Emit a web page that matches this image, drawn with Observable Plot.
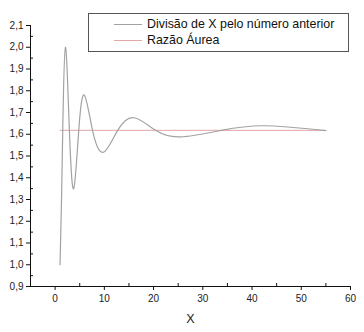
<!DOCTYPE html>
<html>
<head>
<meta charset="utf-8">
<script src="https://cdn.jsdelivr.net/npm/d3@7"></script>
<script src="https://cdn.jsdelivr.net/npm/@observablehq/plot@0.6"></script>
<style>
  body { margin: 0; background: #fff; }
  #wrap { position: relative; width: 364px; height: 332px; font-family: "Liberation Sans", Arial, sans-serif; }
  #legend { position: absolute; left: 88px; top: 13px; width: 259px; height: 37px; border: 1px solid #555; background: #fff; box-sizing: content-box; }
  .row { position: absolute; left: 0; height: 16px; display: flex; align-items: center; font-size: 12.4px; color: #111; white-space: nowrap; }
  .sw { width: 28px; height: 0; margin-left: 25px; margin-right: 5px; }
</style>
</head>
<body>
<div id="wrap">
  <div id="chart"></div>
  <div id="legend">
    <div class="row" style="top:2px"><span class="sw" id="sw1"></span><span id="lab1"></span></div>
    <div class="row" style="top:18px"><span class="sw" id="sw2"></span><span id="lab2"></span></div>
  </div>
</div>
<script>
// Series 1: ratio of X to the previous number (curve)
const ratioX = [1, 1.3, 1.55, 2.09, 2.9, 3.78, 4.8, 5.94, 7.6, 9.8, 12.7, 16.05, 20.4, 25.5, 33.8, 42.4, 55];
const ratioY = [1.0, 1.3, 1.618, 2.0, 1.618, 1.35, 1.618, 1.78, 1.618, 1.517, 1.618, 1.676, 1.618, 1.588, 1.618, 1.639, 1.617];
// Series 2: golden ratio
const goldenX = [1, 55];
const goldenY = [1.618, 1.618];
// Legend labels
const seriesNames = ["Divisão de X pelo número anterior", "Razão Áurea"];
const seriesColors = ["#a2a2a2", "#e2a6a6"];
// Axis ticks
const yTicks = [0.9, 1.0, 1.1, 1.2, 1.3, 1.4, 1.5, 1.6, 1.7, 1.8, 1.9, 2.0, 2.1];
const yMinor = [0.95, 1.05, 1.15, 1.25, 1.35, 1.45, 1.55, 1.65, 1.75, 1.85, 1.95, 2.05];
const xTicks = [0, 10, 20, 30, 40, 50, 60];
const xMinor = [5, 15, 25, 35, 45, 55];

const ratioData = ratioX.map((x, i) => ({x, y: ratioY[i]}));
const goldenData = goldenX.map((x, i) => ({x, y: goldenY[i]}));

const chart = Plot.plot({
  width: 364,
  height: 332,
  marginLeft: 30,
  marginRight: 14,
  marginTop: 25,
  marginBottom: 46,
  style: { fontFamily: '"Liberation Sans", Arial, sans-serif', background: "#fff" },
  x: { domain: [-5, 60] },
  y: { domain: [0.9, 2.1] },
  marks: [
    Plot.line(goldenData, { x: "x", y: "y", stroke: seriesColors[1], strokeWidth: 1 }),
    Plot.line(ratioData, { x: "x", y: "y", curve: "natural", stroke: seriesColors[0], strokeWidth: 1.2 }),
    Plot.axisY({ ticks: yTicks, tickSize: 4, tickPadding: 3, fontSize: 10, stroke: "#111", fill: "#222",
      tickFormat: d => d.toFixed(1).replace(".", ","), label: null }),
    Plot.axisY({ ticks: yMinor, tickSize: 3, dx: 3, text: null, stroke: "#111", label: null }),
    Plot.axisX({ ticks: xTicks, tickSize: 4, tickPadding: 4, fontSize: 10, stroke: "#111", fill: "#222",
      label: "X", labelAnchor: "center", labelArrow: "none", labelOffset: 36 }),
    Plot.axisX({ ticks: xMinor, tickSize: 3, dy: -3, text: null, stroke: "#111", label: null }),
    Plot.ruleX([-5], { stroke: "#111" }),
    Plot.ruleY([0.9], { stroke: "#111" })
  ]
});
chart.querySelectorAll("g[aria-label='x-axis label'] text, g[aria-label='x-axis label']").forEach(e => e.setAttribute("font-size", "12.5"));
document.getElementById("chart").appendChild(chart);

document.getElementById("lab1").textContent = seriesNames[0];
document.getElementById("lab2").textContent = seriesNames[1];
document.getElementById("sw1").style.borderTop = "1px solid " + seriesColors[0];
document.getElementById("sw2").style.borderTop = "1px solid " + seriesColors[1];
</script>
</body>
</html>
